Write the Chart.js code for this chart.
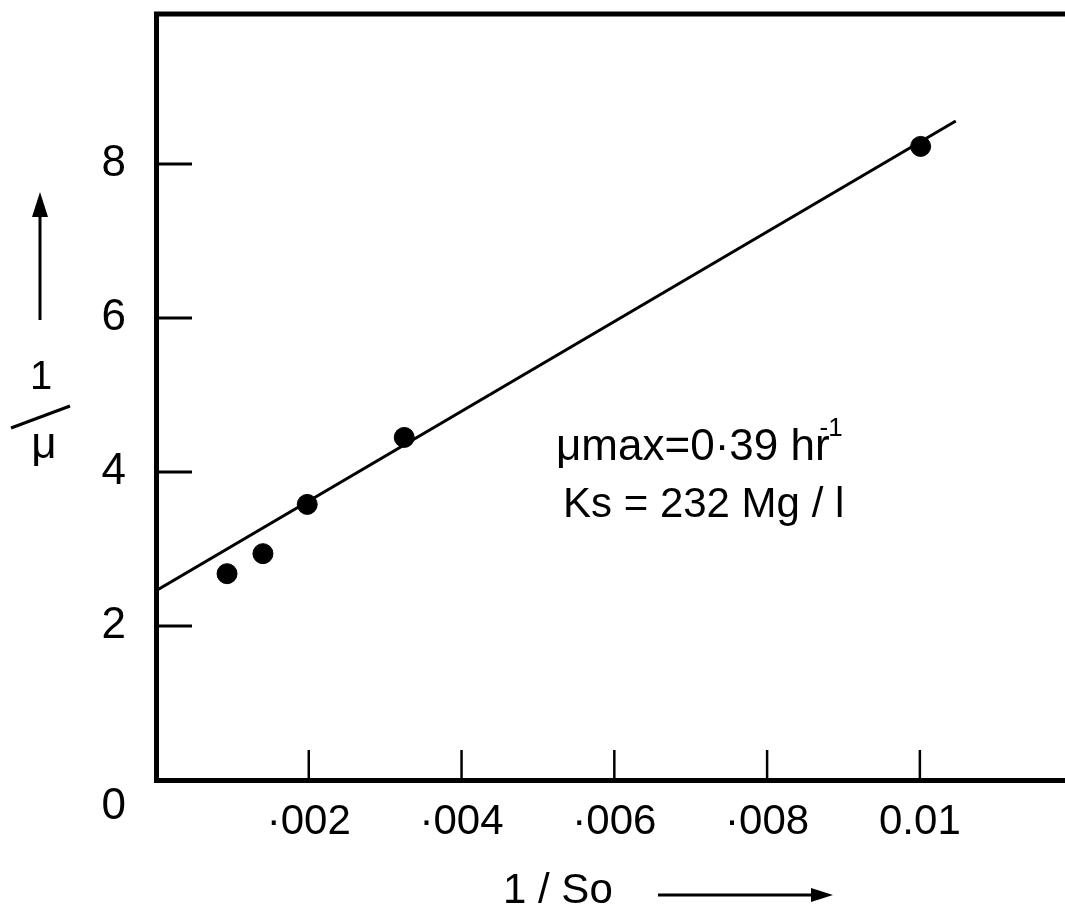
<!DOCTYPE html>
<html>
<head>
<meta charset="utf-8">
<title>1/mu vs 1/So</title>
<script src="https://cdn.jsdelivr.net/npm/chart.js@4.4.1/dist/chart.umd.min.js"></script>
<style>
  html, body { margin: 0; padding: 0; background: #fff; overflow: hidden; }
  #grafica { display: block; }
</style>
</head>
<body>
<canvas id="grafica" width="1065" height="913"></canvas>
<script>
/* valores */
const invSo = [0.00093, 0.0014, 0.00198, 0.00325, 0.01001];
const invMu = [2.68, 2.94, 3.58, 4.45, 8.23];
/* recta trazada a mano */
const fitX = [0, 0.01047];
const fitY = [2.46, 8.56];
const xTicks = [0.002, 0.004, 0.006, 0.008, 0.01];
const xTickLabels = ["·002", "·004", "·006", "·008", "0.01"];
const yTicks = [0, 2, 4, 6, 8];
const yTickLabels = ["0", "2", "4", "6", "8"];
const notes = ["μmax=0·39 hr", "Ks = 232 Mg / l"];

const FONT = "'Liberation Sans', Arial, sans-serif";

const fondo = {
  id: "fondo",
  beforeDraw(chart) {
    const c = chart.ctx;
    c.save();
    c.fillStyle = "#fff";
    c.fillRect(0, 0, chart.width, chart.height);
    c.restore();
  }
};

function flecha(c, x1, y1, x2, y2, head, half) {
  const a = Math.atan2(y2 - y1, x2 - x1);
  const bx = x2 - head * Math.cos(a), by = y2 - head * Math.sin(a);
  c.beginPath();
  c.moveTo(x1, y1);
  c.lineTo(bx, by);
  c.stroke();
  c.beginPath();
  c.moveTo(x2, y2);
  c.lineTo(bx + half * Math.sin(a), by - half * Math.cos(a));
  c.lineTo(bx - half * Math.sin(a), by + half * Math.cos(a));
  c.closePath();
  c.fill();
}

const extras = {
  id: "extras",
  afterDraw(chart) {
    const c = chart.ctx;
    const a = chart.chartArea;
    const sx = chart.scales.x, sy = chart.scales.y;
    c.save();
    c.strokeStyle = "#000";
    c.fillStyle = "#000";
    c.lineCap = "butt";

    // marco superior
    c.lineWidth = 5;
    c.beginPath();
    c.moveTo(a.left - 2, a.top);
    c.lineTo(a.right, a.top);
    c.stroke();

    // marcas hacia dentro
    c.lineWidth = 3;
    yTicks.forEach(v => {
      if (v === 0) return;
      const y = sy.getPixelForValue(v);
      c.beginPath();
      c.moveTo(a.left, y);
      c.lineTo(a.left + 36, y);
      c.stroke();
    });
    c.lineWidth = 2.5;
    xTicks.forEach(v => {
      const x = sx.getPixelForValue(v);
      c.beginPath();
      c.moveTo(x, a.bottom);
      c.lineTo(x, a.bottom - 30);
      c.stroke();
    });

    // titulo eje y: flecha, 1 / mu
    c.lineWidth = 3;
    flecha(c, 40, 320, 40, 192, 25, 8);
    c.textAlign = "center";
    c.textBaseline = "middle";
    c.font = "40px " + FONT;
    c.fillText("1", 41, 378);
    c.beginPath();
    c.moveTo(11, 428);
    c.lineTo(70, 406);
    c.stroke();
    c.font = "44px " + FONT;
    c.fillText("μ", 44, 446);

    // titulo eje x
    c.textAlign = "left";
    c.font = "42px " + FONT;
    c.fillText("1 / So", 503, 891);
    flecha(c, 658, 895, 833, 895, 22, 7);

    // anotacion
    c.textBaseline = "alphabetic";
    c.font = "44px " + FONT;
    c.fillText(notes[0], 556, 460);
    const w = c.measureText(notes[0]).width;
    c.font = "26px " + FONT;
    c.fillText("-1", 556 + w - 10, 436);
    c.font = "42px " + FONT;
    c.fillText(notes[1], 563, 517);
    c.restore();
  }
};

const ctx = document.getElementById("grafica");
const grafica = new Chart(ctx, {
  type: "scatter",
  data: {
    datasets: [
      {
        label: "1/mu",
        data: invSo.map((x, i) => ({ x: x, y: invMu[i] })),
        backgroundColor: "#000",
        borderColor: "#000",
        pointRadius: 10,
        pointHoverRadius: 10,
      },
      {
        label: "recta",
        data: fitX.map((x, i) => ({ x: x, y: fitY[i] })),
        showLine: true,
        borderColor: "#000",
        borderWidth: 3,
        pointRadius: 0,
        fill: false,
      },
    ],
  },
  options: {
    responsive: false,
    animation: false,
    devicePixelRatio: 1,
    layout: { autoPadding: false, padding: { top: 14, left: 0, right: 0, bottom: 0 } },
    plugins: {
      legend: { display: false },
      tooltip: { enabled: false },
    },
    scales: {
      x: {
        type: "linear",
        min: 0,
        max: 0.0119,
        grid: { display: false },
        border: { display: true, color: "#000", width: 5 },
        afterBuildTicks: s => { s.ticks = xTicks.map(v => ({ value: v })); },
        ticks: {
          color: "#000",
          font: { family: FONT, size: 42 },
          padding: 9,
          maxRotation: 0,
          autoSkip: false,
          callback: (v, i) => xTickLabels[i],
        },
        afterFit: s => {
          s.height = 133;
          s.paddingLeft = 0;
          s.paddingRight = 0;
        },
      },
      y: {
        type: "linear",
        min: 0,
        max: 9.95,
        grid: { display: false },
        border: { display: true, color: "#000", width: 5 },
        afterBuildTicks: s => { s.ticks = yTicks.map(v => ({ value: v })); },
        ticks: {
          color: "#000",
          font: { family: FONT, size: 44 },
          padding: 22,
          autoSkip: false,
          // el "0" va un poco por debajo del eje
          callback: (v, i) => (i === 0 ? ["", yTickLabels[i]] : yTickLabels[i]),
        },
        afterFit: s => {
          s.width = 156;
          s.paddingTop = 0;
          s.paddingBottom = 0;
        },
      },
    },
  },
  plugins: [fondo, extras],
});
</script>
</body>
</html>
